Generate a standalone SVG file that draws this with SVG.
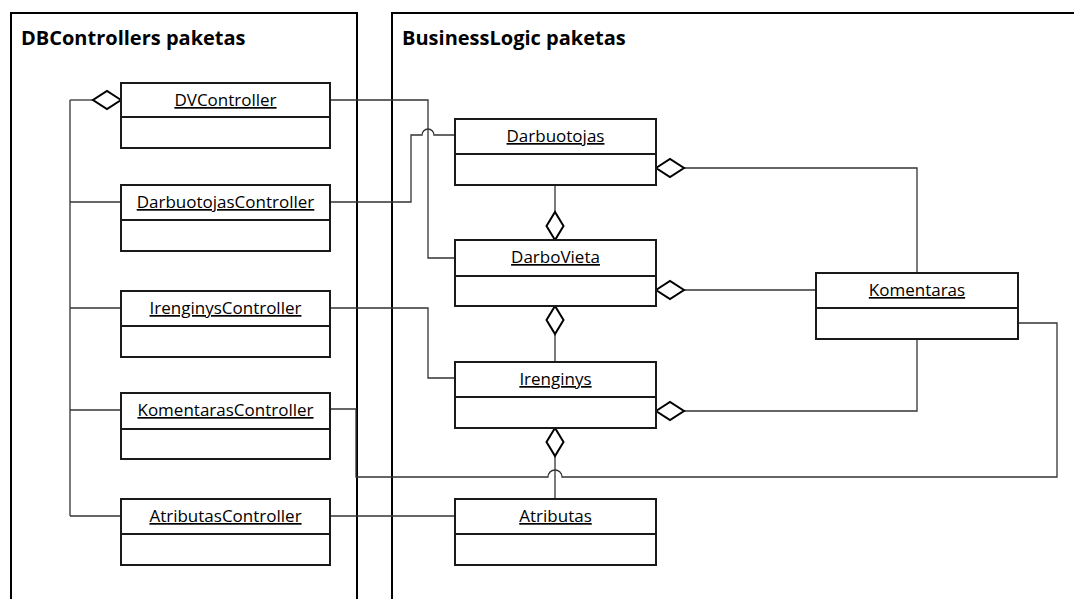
<svg xmlns="http://www.w3.org/2000/svg" width="1074" height="599" viewBox="0 0 1074 599">
<style>
.pkg{fill:none;stroke:#000;stroke-width:2}
.box{fill:#fff;stroke:#1a1a1a;stroke-width:2}
.ttl{font-family:"Open Sans","Liberation Sans",sans-serif;font-weight:bold;font-size:20px;fill:#000}
.nm{font-family:"Open Sans","Liberation Sans",sans-serif;font-size:17px;fill:#000;text-anchor:middle;text-decoration:underline}
.cn{fill:none;stroke:#333;stroke-width:1.3}
.dia{fill:#fff;stroke:#000;stroke-width:2}
</style>
<rect width="1074" height="599" fill="#fff"/>
<g id="pkg-db">
<path class="pkg" d="M11,605 V13 H357 V605"/>
<text class="ttl" x="21" y="45">DBControllers paketas</text>
</g>
<g id="pkg-bl">
<path class="pkg" d="M392,605 V13 H1080"/>
<text class="ttl" x="402" y="45">BusinessLogic paketas</text>
</g>
<g id="connectors">
<path class="cn" d="M70,100 V516"/>
<path class="cn" d="M70,100 H93"/>
<path class="cn" d="M70,202 H121"/>
<path class="cn" d="M70,308 H121"/>
<path class="cn" d="M70,410 H121"/>
<path class="cn" d="M70,516 H121"/>
<path class="cn" d="M330,100 H428 V258 H455"/>
<path class="cn" d="M330,202 H411 V135 H422 A6,6 0 0 1 434,135 H455"/>
<path class="cn" d="M330,308 H428 V378 H455"/>
<path class="cn" d="M330,409 H356 V477 H548 A7,7 0 0 1 562,477 H1057 V323 H1018"/>
<path class="cn" d="M330,516 H455"/>
<path class="cn" d="M555,185 V212"/>
<path class="cn" d="M555,334 V362"/>
<path class="cn" d="M555,456 V499"/>
<path class="cn" d="M684,168 H917 V273"/>
<path class="cn" d="M684,290 H816"/>
<path class="cn" d="M684,411 H917 V339"/>
<path class="dia" d="M121,100 L107,91 L93,100 L107,109 Z"/>
<path class="dia" d="M555,240 L546.5,226 L555,212 L563.5,226 Z"/>
<path class="dia" d="M555,306 L546.5,320 L555,334 L563.5,320 Z"/>
<path class="dia" d="M555,428 L546.5,442 L555,456 L563.5,442 Z"/>
<path class="dia" d="M656,168 L670,159 L684,168 L670,177 Z"/>
<path class="dia" d="M656,290 L670,281 L684,290 L670,299 Z"/>
<path class="dia" d="M656,411 L670,402 L684,411 L670,420 Z"/>
</g>
<g id="DVController">
<rect class="box" x="121" y="83" width="209" height="65"/>
<line class="box" x1="121" y1="117" x2="330" y2="117"/>
<text class="nm" x="225.5" y="106">DVController</text>
</g>
<g id="DarbuotojasController">
<rect class="box" x="121" y="185" width="209" height="66"/>
<line class="box" x1="121" y1="220" x2="330" y2="220"/>
<text class="nm" x="225.5" y="208">DarbuotojasController</text>
</g>
<g id="IrenginysController">
<rect class="box" x="121" y="291" width="209" height="66"/>
<line class="box" x1="121" y1="326" x2="330" y2="326"/>
<text class="nm" x="225.5" y="314">IrenginysController</text>
</g>
<g id="KomentarasController">
<rect class="box" x="121" y="393" width="209" height="66"/>
<line class="box" x1="121" y1="429" x2="330" y2="429"/>
<text class="nm" x="225.5" y="416">KomentarasController</text>
</g>
<g id="AtributasController">
<rect class="box" x="121" y="499" width="209" height="66"/>
<line class="box" x1="121" y1="534" x2="330" y2="534"/>
<text class="nm" x="225.5" y="522">AtributasController</text>
</g>
<g id="Darbuotojas">
<rect class="box" x="455" y="119" width="201" height="66"/>
<line class="box" x1="455" y1="154" x2="656" y2="154"/>
<text class="nm" x="555.5" y="142">Darbuotojas</text>
</g>
<g id="DarboVieta">
<rect class="box" x="455" y="240" width="201" height="66"/>
<line class="box" x1="455" y1="276" x2="656" y2="276"/>
<text class="nm" x="555.5" y="263">DarboVieta</text>
</g>
<g id="Irenginys">
<rect class="box" x="455" y="362" width="201" height="66"/>
<line class="box" x1="455" y1="397" x2="656" y2="397"/>
<text class="nm" x="555.5" y="385">Irenginys</text>
</g>
<g id="Atributas">
<rect class="box" x="455" y="499" width="201" height="66"/>
<line class="box" x1="455" y1="534" x2="656" y2="534"/>
<text class="nm" x="555.5" y="522">Atributas</text>
</g>
<g id="Komentaras">
<rect class="box" x="816" y="273" width="202" height="66"/>
<line class="box" x1="816" y1="308" x2="1018" y2="308"/>
<text class="nm" x="917" y="296">Komentaras</text>
</g>
</svg>
